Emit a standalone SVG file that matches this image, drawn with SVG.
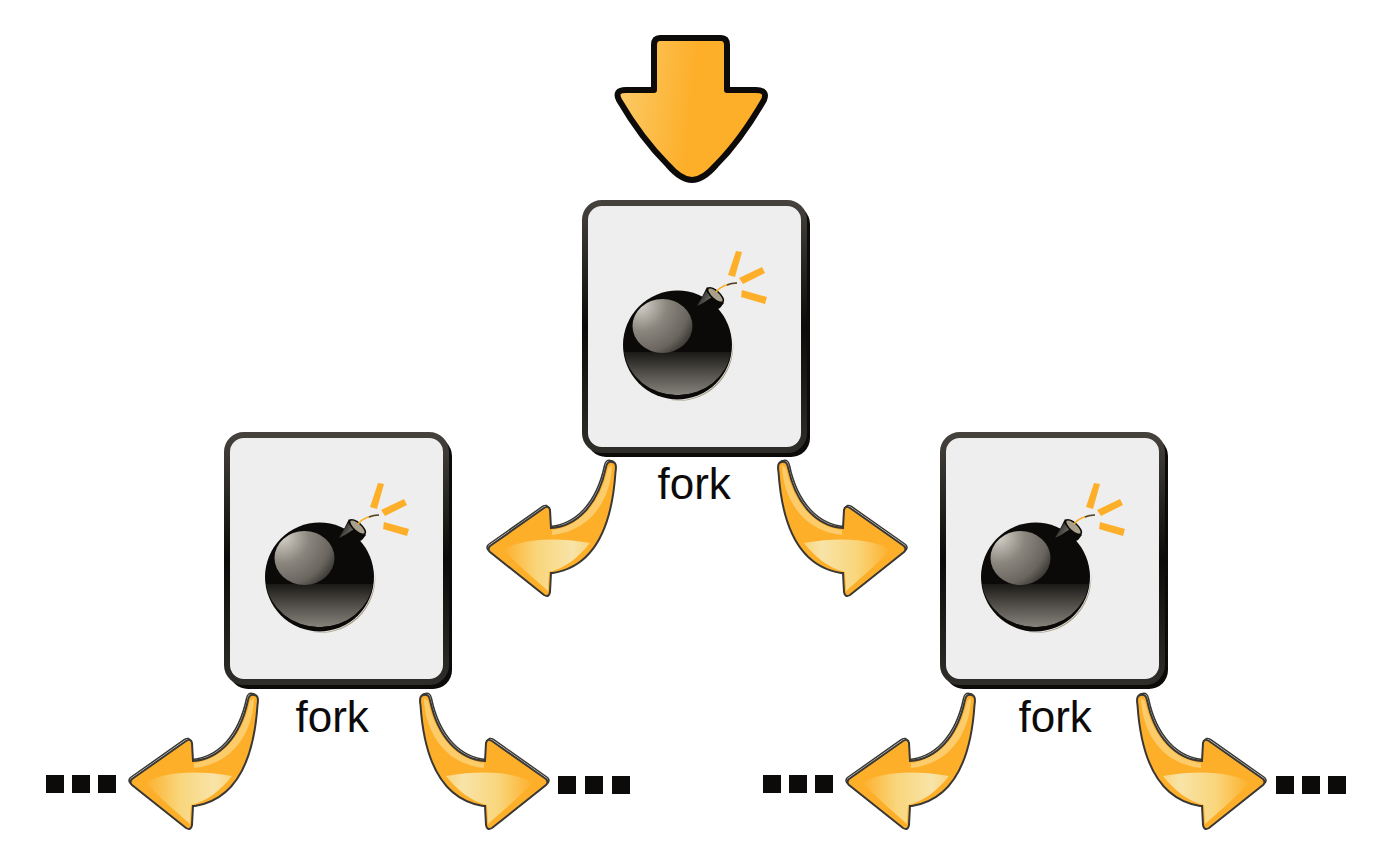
<svg xmlns="http://www.w3.org/2000/svg" xmlns:xlink="http://www.w3.org/1999/xlink" width="1400" height="861" viewBox="0 0 1400 861">
<style>
.lbl{font-family:"Liberation Sans",Arial,sans-serif;font-size:44px;fill:#0c0b09}
.dot{fill:#0c0b09}
.spark{fill:#fdaf2a}
</style>
<defs>
<linearGradient id="bigG" gradientUnits="userSpaceOnUse" x1="617" y1="100" x2="690" y2="108"><stop offset="0" stop-color="#fbcb68"/><stop offset="1" stop-color="#fdaf2a"/></linearGradient>
<linearGradient id="patch" gradientUnits="userSpaceOnUse" x1="503" y1="552" x2="590" y2="552"><stop offset="0" stop-color="#fdaf2a"/><stop offset=".4" stop-color="#f9d67c"/><stop offset=".8" stop-color="#f8e3a8"/><stop offset="1" stop-color="#f8d67e"/></linearGradient>
<linearGradient id="frame" x1="0" y1="0" x2="0" y2="1"><stop offset="0" stop-color="#45423d"/><stop offset=".5" stop-color="#0c0b09"/><stop offset="1" stop-color="#2f2d29"/></linearGradient>
<radialGradient id="shine" gradientUnits="userSpaceOnUse" cx="640" cy="304" r="68"><stop offset="0" stop-color="#d8d5cc"/><stop offset=".4" stop-color="#8a857d"/><stop offset=".72" stop-color="#6a665f"/><stop offset="1" stop-color="#1c1b19"/></radialGradient>
<linearGradient id="refl" gradientUnits="userSpaceOnUse" x1="0" y1="352" x2="0" y2="397"><stop offset="0" stop-color="#1a1917"/><stop offset=".4" stop-color="#4a4742"/><stop offset="1" stop-color="#8a8780"/></linearGradient>
<linearGradient id="neck" gradientUnits="userSpaceOnUse" x1="698" y1="298" x2="712" y2="306"><stop offset="0" stop-color="#2a2825"/><stop offset="1" stop-color="#8a8780"/></linearGradient>
<clipPath id="ballClip"><path d="M624 352H731A54 50 0 0 1 624 352Z"/></clipPath>
<path id="arrowShape" d="M612 462C616 462 616.500 466 615.500 472C613 510 602 565 553 573L551 573L550 592Q549 598 544 595L490 552Q487 549 490 546L544 508Q549 505 550 510L551 528C577 526 598 505 606 467Q607 461 612 462Z"/>
<g id="arrow">
<use href="#arrowShape" transform="translate(-1.500 -1.500)" fill="#fff" stroke="#3a3834" stroke-width="1.500"/>
<use href="#arrowShape" fill="#fdaf2a" stroke="#3a3834" stroke-width="2"/>
<path d="M612 465C611 498 592 531 552 535L552 530C578 527 600 505 608 468Z" fill="#fccb6a"/>
<path d="M503 550C520 540 550 536 590 543C578 558 565 568 549 572L548 591L522 568Z" fill="url(#patch)"/>
</g>
<g id="card">
<rect x="587" y="205" width="223" height="252" rx="19" fill="#0c0b09"/>
<rect x="585" y="203" width="219" height="247" rx="17" fill="#eeeeee" stroke="url(#frame)" stroke-width="6"/>
<path d="M733 340A55 55 0 0 1 668 400A57 57 0 0 0 733 340Z" fill="#a8a08a"/>
<circle cx="677.500" cy="345" r="54.500" fill="#0b0a08"/>
<path d="M624 352H731A54 50 0 0 1 624 352Z" fill="url(#refl)" clip-path="url(#ballClip)"/>
<ellipse cx="662.500" cy="326" rx="30" ry="27" fill="url(#shine)"/>
<path d="M697 307L707 287L724 303L720 308L712 312Z" fill="#0b0a08"/>
<path d="M697 306L706 291L712 297L703 303Z" fill="url(#neck)"/>
<ellipse cx="715.500" cy="295" rx="10" ry="4" transform="rotate(42 715.500 295)" fill="#a8a08a" stroke="#0b0a08" stroke-width="1.500"/>
<path d="M716 292Q722 284 737 283" fill="none" stroke="#fdaf2a" stroke-width="1.500"/>
<path d="M727 285Q731 283 737 283" fill="none" stroke="#4a4742" stroke-width="1.500"/>
<polygon class="spark" points="736,251 742,252 735,277 728,275"/>
<polygon class="spark" points="739,278 762,267 765,273 743,284"/>
<polygon class="spark" points="742,290 767,297 765,304 741,297"/>
</g>
</defs>

<g id="connectors">
<path id="arrow-in" d="M660 38H721Q727 38 727 45V90H756Q768 90 764 100C750 124 735 146 716 165Q703 180 692 180Q681 180 668 165C649 146 633 124 619 100Q614 90 626 90H654V45Q654 38 660 38Z" fill="url(#bigG)" stroke="#0c0b09" stroke-width="6" stroke-linejoin="round"/>
<use id="c-center-left" href="#arrow"/>
<use id="c-center-right" href="#arrow" transform="matrix(-1 0 0 1 1394 0)"/>
<use id="c-left-left" href="#arrow" transform="translate(-358 233)"/>
<use id="c-left-right" href="#arrow" transform="matrix(-1 0 0 1 1036 233)"/>
<use id="c-right-left" href="#arrow" transform="translate(359 233)"/>
<use id="c-right-right" href="#arrow" transform="matrix(-1 0 0 1 1753 233)"/>
</g>

<g id="node-center"><use href="#card"/><text class="lbl" x="657.500" y="499">fork</text></g>
<g id="node-left"><use href="#card" transform="translate(-358 232)"/><text class="lbl" x="295.500" y="732">fork</text></g>
<g id="node-right"><use href="#card" transform="translate(358 232)"/><text class="lbl" x="1018.500" y="732">fork</text></g>

<g id="dots-1"><rect class="dot" x="46" y="775" width="18" height="18"/><rect class="dot" x="72" y="775" width="18" height="18"/><rect class="dot" x="98" y="775" width="18" height="18"/></g>
<g id="dots-2"><rect class="dot" x="558" y="776" width="18" height="18"/><rect class="dot" x="585" y="776" width="18" height="18"/><rect class="dot" x="612" y="776" width="18" height="18"/></g>
<g id="dots-3"><rect class="dot" x="763" y="775" width="18" height="18"/><rect class="dot" x="789" y="775" width="18" height="18"/><rect class="dot" x="815" y="775" width="18" height="18"/></g>
<g id="dots-4"><rect class="dot" x="1276" y="776" width="18" height="18"/><rect class="dot" x="1302" y="776" width="18" height="18"/><rect class="dot" x="1328" y="776" width="18" height="18"/></g>
</svg>
